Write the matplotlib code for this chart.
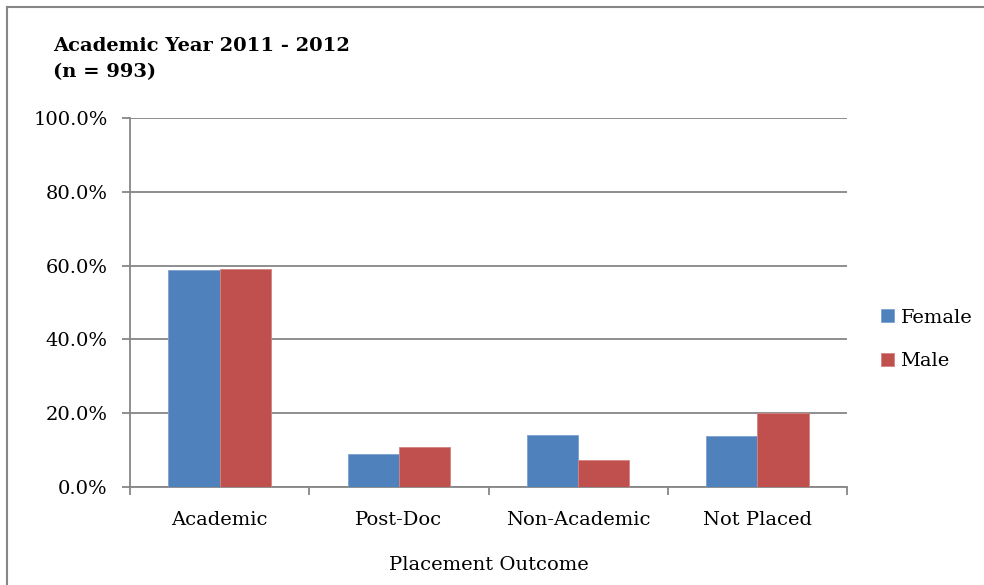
import matplotlib
matplotlib.use('Agg')
from matplotlib import pyplot as plt
from matplotlib.lines import Line2D
import numpy as np

# data
categories = ['Academic', 'Post-Doc', 'Non-Academic', 'Not Placed']
female = [58.8, 8.9, 14.1, 13.8]
male = [59.0, 10.8, 7.3, 20.0]

plt.rcParams['font.family'] = 'DejaVu Serif'
fs = 14

fig = plt.figure(figsize=(9.84, 5.85), dpi=100)
ax = fig.add_axes([0.1321, 0.1675, 0.7287, 0.6308])

x = np.arange(len(categories))
w = 1 / 3.5
grey = '#868686'
ax.bar(x - w / 2, female, w, color='#4F81BD', edgecolor='#7FA1CF', linewidth=0.6, label='Female', zorder=3)
ax.bar(x + w / 2, male, w, color='#C0504D', edgecolor='#D38482', linewidth=0.6, label='Male', zorder=3)

ax.set_xlim(-0.5, len(categories) - 0.5)
ax.set_ylim(0, 100)
ax.set_yticks(np.arange(0, 101, 20))
ax.set_yticklabels(['%.1f%%' % v for v in np.arange(0, 101, 20)], fontsize=fs)
ax.yaxis.grid(True, color=grey, linewidth=1.3, zorder=0)
ax.set_axisbelow(True)

# category ticks sit on the boundaries, labels in the middle
ax.set_xticks(np.arange(-0.5, len(categories)), minor=False)
ax.set_xticklabels([])
ax.set_xticks(x, minor=True)
ax.set_xticklabels(categories, minor=True, fontsize=fs)
ax.tick_params(axis='x', which='minor', length=0, pad=17)
ax.tick_params(axis='x', which='major', length=6, width=1.3, color=grey)
ax.tick_params(axis='y', length=6, width=1.3, color=grey, pad=10)

for s in ['top', 'right']:
    ax.spines[s].set_visible(False)
for s in ['left', 'bottom']:
    ax.spines[s].set_color(grey)
    ax.spines[s].set_linewidth(1.3)

ax.set_xlabel('Placement Outcome', fontsize=fs, labelpad=20)

fig.text(0.054, 1 - 37 / 585, 'Academic Year 2011 - 2012\n(n = 993)', fontsize=fs,
         fontweight='bold', ha='left', va='top', linespacing=1.6)

ax.legend(loc='center left', bbox_to_anchor=(1.023, 0.40), frameon=False,
          fontsize=fs, handlelength=0.65, handleheight=0.65, handletextpad=0.35,
          labelspacing=1.3)

# outer chart border (only left and top edges fall inside the image)
fig.add_artist(Line2D([0.0075, 0.0075], [0, 0.988], color=grey, linewidth=1.5))
fig.add_artist(Line2D([0.0075, 1], [0.988, 0.988], color=grey, linewidth=1.5))

fig.savefig('out.png', dpi=100, facecolor='white')
